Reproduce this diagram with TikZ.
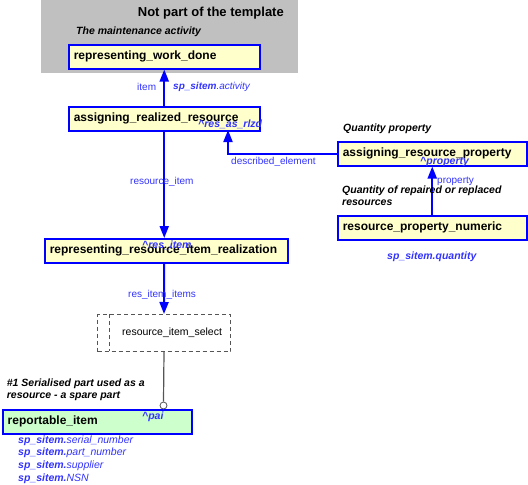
\documentclass[tikz,border=0pt]{standalone}
\usepackage{fontspec}
\setmainfont{Liberation Sans}
\usetikzlibrary{arrows.meta}
\definecolor{bx}{HTML}{0000FF}
\definecolor{lb}{HTML}{3333FF}
\definecolor{yfill}{HTML}{FFFFCC}
\definecolor{gfill}{HTML}{CCFFCC}
\definecolor{grayfill}{HTML}{C0C0C0}
\definecolor{dgray}{HTML}{555555}
\begin{document}
\begin{tikzpicture}[x=1pt,y=-1pt,
 box/.style={draw=bx, line width=1.5pt, fill=yfill, anchor=north west, minimum height=24pt, inner xsep=5pt, inner ysep=0pt, align=left, font=\fontsize{12}{14}\selectfont\bfseries},
 conn/.style={draw=bx, line width=2pt, -{Triangle[width=9pt,length=12pt]}},
 lbl/.style={text=lb, font=\fontsize{10}{12}\selectfont, inner sep=0pt, anchor=west},
 role/.style={text=lb, font=\fontsize{10.5}{12}\selectfont\bfseries\itshape, inner sep=0pt, anchor=west},
 attr/.style={text=lb, font=\fontsize{10.5}{12.6}\selectfont\itshape, inner sep=0pt, anchor=west, align=left},
 note/.style={font=\fontsize{10.5}{12}\selectfont\bfseries\itshape, inner sep=0pt, anchor=west, align=left},
 selbox/.style={draw=dgray, line width=1pt, dash pattern=on 4pt off 3pt, anchor=north west, inner sep=0pt},
]
\useasboundingbox (0,0) rectangle (528,485);
% grey area
\fill[grayfill] (41,0) rectangle (298,73);
\node[font=\fontsize{13}{15}\selectfont\bfseries, anchor=east, inner sep=0pt] (npt) at (284,13) {Not part of the template};
\node[note] (nmaint) at (76,32) {The maintenance activity};

% boxes
\node[box, text width=181pt] (rwd) at (68,44) {representing\_work\_done};
\node[box, text width=181pt] (arr) at (68,106) {assigning\_realized\_resource};
\node[box, text width=179pt] (arp) at (337,141) {assigning\_resource\_property};
\node[box, text width=179pt] (rpn) at (337,215) {resource\_property\_numeric};
\node[box, text width=233pt] (rrir) at (44,238) {representing\_resource\_item\_realization};
\node[box, fill=gfill, text width=179pt] (ri) at (2,409) {reportable\_item};
\node[selbox, minimum width=133pt, minimum height=37pt] (ris) at (97,314) {};
\draw[draw=dgray, line width=1pt, dash pattern=on 4pt off 3pt] (109,314) -- (109,351);
\node[inner sep=0pt, anchor=west, font=\fontsize{10.5}{12}\selectfont] (ristxt) at (122,332.7) {resource\_item\_select};

% connectors
\coordinate (arrB) at (228,130);
\draw[conn] (arr.north) -- (rwd.south);
\draw[conn] (arp.west) -| (arrB);
\draw[conn] (rpn.north) -- (arp.south);
\draw[conn] (arr.south) -- (arr.south |- rrir.north);
\draw[conn] (rrir.south -| arr.south) -- (ris.north);
\node[circle, draw=dgray, fill=white, line width=0.8pt, minimum size=7pt, inner sep=0pt] (pc) at (163.5,405.5) {};
\draw[dgray, line width=1.2pt] (ris.south) -- (pc.north);

% labels
\node[lbl] (litem) at (137,87) {item};
\node[lbl] (lact) at (173,87) {\itshape{\bfseries sp\_sitem}.activity};
\node[role] (rrlzd) at (198,124) {\^{}res\_as\_rlzd};
\node[lbl] (lresit) at (130,182.3) {resource\_item};
\node[lbl] (ldesc) at (231,162.3) {described\_element};
\node[note] (nqp) at (343,129) {Quantity property};
\node[role] (rprop) at (420,162.3) {\^{}property};
\node[lbl] (lprop) at (437,181) {property};
\node[note] (nqr) at (342,196) {Quantity of repaired or replaced\\resources};
\node[role] (rqty) at (387,256.7) {sp\_sitem.quantity};
\node[role] (rresit) at (142,245) {\^{}res\_item};
\node[lbl] (lrii) at (128,295) {res\_item\_items};
\node[note] (nser) at (6.7,389.7) {\#1 Serialised part used as a\\resource - a spare part};
\node[role] (rpai) at (142,416.5) {\^{}pai};
\node[attr, anchor=north west] (attrs) at (18,435.5) {{\bfseries sp\_sitem.}serial\_number\\{\bfseries sp\_sitem.}part\_number\\{\bfseries sp\_sitem.}supplier\\{\bfseries sp\_sitem.}NSN};
\end{tikzpicture}
\end{document}
